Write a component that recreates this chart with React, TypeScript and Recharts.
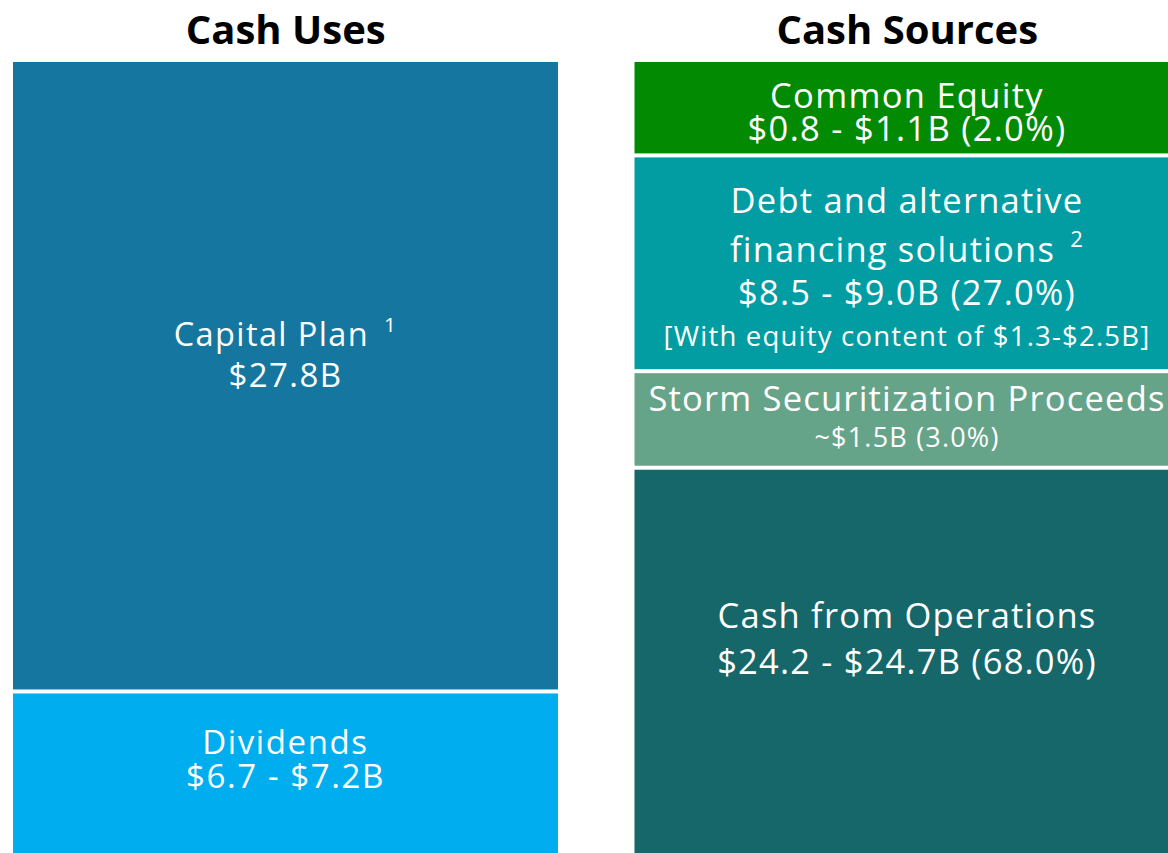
import { BarChart, Bar, XAxis, YAxis } from 'recharts'

const categories = ['Cash Uses', 'Cash Sources']

// block sizes as drawn, on the $B scale of the left column
const capitalPlan = [27.8, 0]
const dividends = [7.2, 0]
const cashFromOps = [0, 17.05]
const stormProceeds = [0, 4.25]
const debtFinancing = [0, 9.5]
const commonEquity = [0, 4.2]

// label lines: [text, footnote]
const capitalText = [['Capital Plan ', '1'], ['$27.8B', '']]
const dividendsText = [['Dividends', ''], ['$6.7 - $7.2B', '']]
const equityText = [['Common Equity', ''], ['$0.8 - $1.1B (2.0%)', '']]
const debtText = [
  ['Debt and alternative', ''],
  ['financing solutions ', '2'],
  ['$8.5 - $9.0B (27.0%)', ''],
  ['[With equity content of $1.3-$2.5B]', ''],
]
const stormText = [['Storm Securitization Proceeds', ''], ['~$1.5B (3.0%)', '']]
const opsText = [['Cash from Operations', ''], ['$24.2 - $24.7B (68.0%)', '']]

const data = categories.map((name, i) => ({
  name,
  capital: capitalPlan[i],
  dividends: dividends[i],
  ops: cashFromOps[i],
  storm: stormProceeds[i],
  debt: debtFinancing[i],
  equity: commonEquity[i],
}))

const FONT = '"Open Sans", "Noto Sans", sans-serif'
const GAP = 2

// stacked bottom-up
const segments = [
  { key: 'dividends', fill: '#00aeef', lines: dividendsText, dy: [62.5, 96.5], size: [33, 33], ls: 1.6 },
  { key: 'capital', fill: '#15769f', lines: capitalText, dy: [286, 327], size: [32.5, 33], ls: 1.4 },
  { key: 'ops', fill: '#16676a', lines: opsText, dy: [160, 206], size: [34.5, 34.5], ls: 1.2 },
  { key: 'storm', fill: '#66a48a', lines: stormText, dy: [39.5, 76], size: [34.5, 27], ls: 1.2 },
  { key: 'debt', fill: '#019da2', lines: debtText, dy: [58, 107, 150, 191], size: [34.5, 34.5, 34.5, 27.5], ls: 1.2 },
  { key: 'equity', fill: '#028a02', lines: equityText, dy: [47.5, 80.5], size: [34.5, 34.5], ls: 1.3 },
]

function makeShape(seg: any) {
  return (props: any) => {
    const { x, y, width, height } = props
    if (!height || height <= 0) return <g />
    const cx = x + width / 2
    return (
      <g>
        <rect x={x} y={y + GAP} width={width} height={height - 2 * GAP} fill={seg.fill} />
        {seg.lines.map((line: string[], i: number) => (
          <text
            key={i}
            x={cx}
            y={y + seg.dy[i]}
            textAnchor="middle"
            fill="#fff"
            fontFamily={FONT}
            fontSize={seg.size[i]}
            style={{ letterSpacing: seg.ls }}
          >
            {line[0]}
            {line[1] && (
              <tspan fontSize={seg.size[i] * 0.64} dx={5} dy={-seg.size[i] * 0.44}>
                {line[1]}
              </tspan>
            )}
          </text>
        ))}
      </g>
    )
  }
}

const TitleTick = (props: any) => {
  const { x, payload } = props
  return (
    <text
      x={x}
      y={44}
      textAnchor="middle"
      fontFamily={FONT}
      fontWeight={700}
      fontSize={40}
      fill="#000"
    >
      {payload.value}
    </text>
  )
}

export default function App() {
  return (
    <div
      style={{
        position: 'fixed',
        left: 0,
        top: 0,
        width: 1168,
        height: 853,
        overflow: 'hidden',
        background: '#fff',
      }}
    >
      <div style={{ position: 'absolute', left: -25.25, top: 0 }}>
        <BarChart
          width={1243}
          height={860}
          data={data}
          margin={{ top: 0, right: 0, bottom: 5, left: 0 }}
        >
          <XAxis
            dataKey="name"
            orientation="top"
            height={60}
            axisLine={false}
            tickLine={false}
            interval={0}
            tick={<TitleTick />}
          />
          <YAxis hide type="number" domain={[0, 35]} allowDataOverflow />
          {segments.map((seg) => (
            <Bar
              key={seg.key}
              dataKey={seg.key}
              stackId="cash"
              barSize={545}
              fill={seg.fill}
              shape={makeShape(seg)}
              isAnimationActive={false}
            />
          ))}
        </BarChart>
      </div>
    </div>
  )
}
